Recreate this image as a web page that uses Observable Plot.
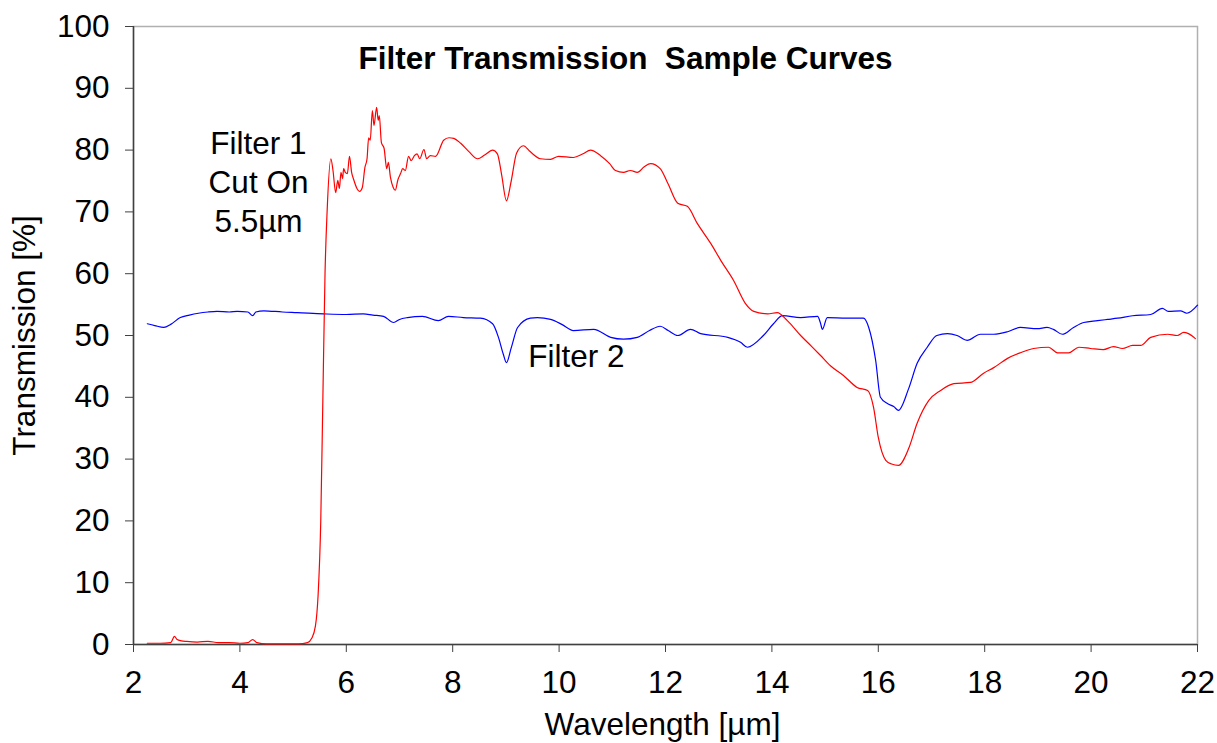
<!DOCTYPE html>
<html>
<head>
<meta charset="utf-8">
<script src="https://cdn.jsdelivr.net/npm/d3@7"></script>
<script src="https://cdn.jsdelivr.net/npm/@observablehq/plot@0.6"></script>
<style>
  html, body { margin: 0; padding: 0; background: #fff; }
  #chart svg { font-family: "Liberation Sans", Arial, sans-serif; display: block; }
</style>
</head>
<body>
<div id="chart"></div>
<script>
// ---- Data ----
const xTicks = [2, 4, 6, 8, 10, 12, 14, 16, 18, 20, 22];
const yTicks = [0, 10, 20, 30, 40, 50, 60, 70, 80, 90, 100];

const titleText = "Filter Transmission \u00a0Sample Curves";
const xLabel = "Wavelength [µm]";
const yLabel = "Transmission [%]";
const filter1Label = "Filter 1\nCut On\n5.5µm";
const filter2Label = "Filter 2";

// Filter 1 (red)
const redWavelength = [
  2.26, 2.5, 2.7, 2.77, 2.82, 2.9, 3.0, 3.2, 3.4, 3.6, 3.8, 4.0, 4.15, 4.24, 4.32, 4.5, 4.8, 5.1,
  5.27, 5.35, 5.42, 5.47, 5.52, 5.56, 5.6, 5.64, 5.71, 5.75, 5.80, 5.84, 5.87, 5.90, 5.93, 5.95,
  5.98, 6.02, 6.06, 6.10, 6.14, 6.20, 6.25, 6.30, 6.35, 6.39, 6.42, 6.45, 6.49, 6.52, 6.57, 6.60,
  6.62, 6.66, 6.71, 6.76, 6.79, 6.83, 6.88, 6.92, 6.97, 7.02, 7.06, 7.11, 7.17, 7.22, 7.28, 7.33,
  7.38, 7.46, 7.51, 7.58, 7.68, 7.83, 7.93, 8.02, 8.15, 8.3, 8.47, 8.6, 8.75, 8.84, 8.92, 9.01,
  9.1, 9.2, 9.33, 9.45, 9.65, 9.84, 9.99, 10.27, 10.45, 10.59, 10.78, 10.95, 11.06, 11.21, 11.34,
  11.47, 11.6, 11.72, 11.9, 12.05, 12.23, 12.41, 12.6, 12.85, 13.05, 13.28, 13.5, 13.66, 13.92,
  14.1, 14.29, 14.54, 14.75, 14.91, 15.1, 15.35, 15.6, 15.8, 15.91, 16.0, 16.14, 16.25, 16.38,
  16.57, 16.73, 16.95, 17.17, 17.42, 17.73, 17.98, 18.17, 18.43, 18.67, 18.92, 19.2, 19.37, 19.58,
  19.77, 19.99, 20.23, 20.42, 20.59, 20.78, 20.93, 21.12, 21.44, 21.62, 21.74, 21.83, 21.96
];
const redTransmission = [
  0.2, 0.2, 0.3, 1.3, 0.8, 0.6, 0.5, 0.4, 0.5, 0.3, 0.3, 0.2, 0.3, 0.8, 0.3, 0.1, 0.1, 0.1,
  0.3, 1, 3, 8, 20, 40, 60, 70.2, 78.6, 76.7, 73.1, 75.1, 73.8, 76.4, 75.4, 77.0,
  76.4, 76.2, 79.0, 76.4, 75.2, 73.8, 73.3, 73.9, 77.2, 78.6, 82, 81.6, 86.4, 84, 86.9, 84.8,
  85.6, 81.2, 80.3, 77, 78, 75.6, 74, 73.5, 75.2, 76.2, 77, 76.7, 79, 78.3, 79.1, 79.4,
  78.6, 80.1, 78.6, 79.1, 79, 81.6, 82, 81.9, 81.1, 79.8, 78.6, 79.2, 80, 79.4, 76, 71.8,
  75, 79.5, 80.7, 79.8, 78.6, 78.5, 79.0, 78.8, 79.4, 80.0, 79.1, 77.8, 76.7, 76.4, 76.7,
  76.4, 77.3, 77.8, 77.0, 74.5, 71.4, 70.9, 68.1, 64.9, 62, 58.9, 55.2, 53.9, 53.5,
  53.7, 52.4, 50, 48.2, 46.8, 45.1, 43.5, 41.6, 41.1, 38.4, 33.5, 29.8, 29.2, 29.0,
  31.7, 35.8, 39.5, 41.1, 42.2, 42.4, 43.9, 44.8, 46.3, 47.2, 47.9, 48.1, 47.2, 47.2,
  48.1, 47.9, 47.7, 48.2, 47.9, 48.4, 48.4, 49.7, 50.2, 50, 50.5, 50.3, 49.5
];

// Filter 2 (blue)
const blueWavelength = [
  2.26, 2.4, 2.57, 2.7, 2.88, 3.05, 3.22, 3.4, 3.57, 3.8, 3.95, 4.15, 4.24, 4.3, 4.45, 4.8, 5.08,
  5.57, 6.0, 6.32, 6.5, 6.7, 6.89, 7.0, 7.15, 7.43, 7.73, 7.92, 8.2, 8.52, 8.75, 8.86, 8.95, 9.01,
  9.1, 9.22, 9.46, 9.59, 9.84, 10.05, 10.27, 10.65, 10.97, 11.21, 11.47, 11.7, 11.9, 12.05, 12.23,
  12.47, 12.66, 13.17, 13.41, 13.54, 13.84, 14.03, 14.2, 14.54, 14.86, 14.91, 14.95, 15.04, 15.4,
  15.72, 15.82, 15.95, 16.04, 16.17, 16.29, 16.38, 16.57, 16.73, 16.92, 17.1, 17.3, 17.48, 17.67,
  17.92, 18.17, 18.43, 18.67, 18.99, 19.17, 19.29, 19.46, 19.67, 19.86, 20.12, 20.31, 20.5, 20.78,
  21.12, 21.34, 21.45, 21.68, 21.8, 22.0
];
const blueTransmission = [
  51.9, 51.6, 51.3, 51.8, 52.9, 53.3, 53.6, 53.8, 53.9, 53.8, 53.9, 53.8, 53.2, 53.8, 54.0, 53.8, 53.7,
  53.5, 53.4, 53.5, 53.3, 53.1, 52.1, 52.6, 52.9, 53.1, 52.4, 53.1, 52.9, 52.8, 51.9, 49.7, 47, 45.6,
  48, 51.3, 52.8, 52.9, 52.6, 51.8, 50.8, 51, 49.7, 49.4, 49.7, 50.8, 51.5, 50.8, 50,
  51, 50.3, 49.7, 48.9, 48.1, 50, 51.9, 53.2, 52.9, 53.1, 52.1, 51, 52.9, 52.8,
  52.8, 51.3, 46, 40, 39, 38.5, 37.9, 41.4, 45.5, 48.1, 50, 50.3, 50, 49.2,
  50.2, 50.2, 50.6, 51.3, 51.1, 51.3, 51, 50.2, 51.3, 52.1, 52.4, 52.6, 52.8, 53.2,
  53.4, 54.4, 53.9, 54, 53.6, 54.9
];

const red = redWavelength.map((w, i) => ({w, t: redTransmission[i]}));
const blue = blueWavelength.map((w, i) => ({w, t: blueTransmission[i]}));

const FONT = "Liberation Sans, Arial, sans-serif";
const axisColor = "#404040";
const FS = 31.5;

const chart = Plot.plot({
  width: 1217,
  height: 743,
  marginLeft: 133,
  marginRight: 20,
  marginTop: 26,
  marginBottom: 99,
  style: {fontFamily: FONT, fontSize: FS + "px", background: "#fff", color: "#000"},
  x: {domain: [2, 22], ticks: xTicks, label: null},
  y: {domain: [0, 100], ticks: yTicks, label: null},
  marks: [
    Plot.frame({stroke: "#b0b0b0", strokeWidth: 1.5}),
    Plot.axisX({ticks: xTicks, tickSize: 8, tickPadding: 18, fontSize: FS, stroke: axisColor, label: null, tickFormat: d => String(d)}),
    Plot.axisY({ticks: yTicks, tickSize: 8, tickPadding: 16, fontSize: FS, stroke: axisColor, label: null, tickFormat: d => String(d)}),
    Plot.ruleY([0], {stroke: axisColor, strokeWidth: 1.5}),
    Plot.ruleX([2], {stroke: axisColor, strokeWidth: 1.5}),
    Plot.line(blue, {x: "w", y: "t", stroke: "#0000ff", strokeWidth: 1.2, curve: "monotone-x"}),
    Plot.line(red, {x: "w", y: "t", stroke: "#ff0000", strokeWidth: 1.2, curve: "monotone-x"}),
    Plot.text([titleText], {frameAnchor: "top", dx: -40, dy: 32, fontSize: 31.5, fontWeight: "bold", fill: "#000", lineAnchor: "middle"}),
    Plot.text([filter1Label], {frameAnchor: "top-left", dx: 125, dy: 154, fontSize: FS, fill: "#000", textAnchor: "middle", lineAnchor: "middle", lineHeight: 1.23}),
    Plot.text([filter2Label], {frameAnchor: "top-left", dx: 443, dy: 330, fontSize: FS, fill: "#000", textAnchor: "middle", lineAnchor: "middle"}),
    Plot.text([xLabel], {frameAnchor: "bottom", dx: -3, dy: 80, fontSize: FS, fill: "#000", lineAnchor: "middle"}),
    Plot.text([yLabel], {frameAnchor: "left", dx: -109, rotate: -90, fontSize: FS, fill: "#000", textAnchor: "middle", lineAnchor: "middle"})
  ]
});

document.getElementById("chart").appendChild(chart);
</script>
</body>
</html>
